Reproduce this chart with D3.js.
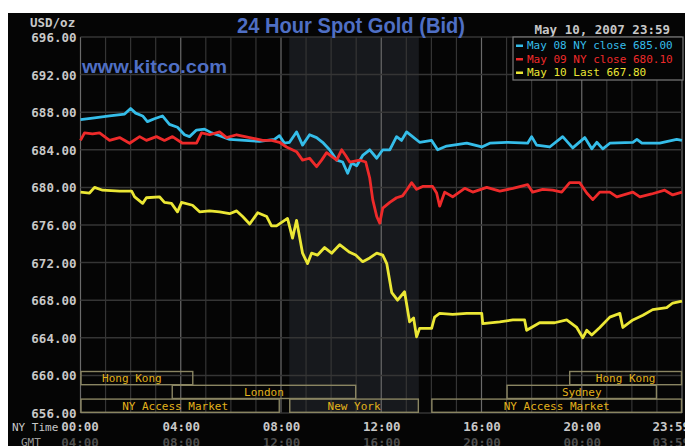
<!DOCTYPE html>
<html>
<head>
<meta charset="utf-8">
<script src="https://cdn.jsdelivr.net/npm/d3@7"></script>
<style>
  html, body { margin: 0; padding: 0; background: #ffffff; }
  svg { display: block; }
</style>
</head>
<body>
<script>
// hours since 00:00 NY time and spot prices
const may08Hours = [0, 0.56, 1.16, 1.76, 2.0, 2.2, 2.48, 2.67, 2.95, 3.27, 3.55, 3.87, 4.15, 4.35, 4.63, 4.95, 5.23, 5.55, 5.95, 6.55, 7.15, 7.74, 7.94, 8.14, 8.34, 8.62, 8.86, 9.14, 9.42, 9.66, 9.94, 10.22, 10.46, 10.66, 10.82, 11.02, 11.26, 11.54, 11.82, 12.06, 12.34, 12.61, 12.81, 13.01, 13.25, 13.53, 14.01, 14.25, 14.61, 15.41, 16.01, 16.33, 17.01, 17.84, 18.0, 18.2, 18.72, 19.24, 19.64, 20.12, 20.4, 20.6, 20.84, 21.12, 22.04, 22.2, 22.4, 23.11, 23.79, 24];
const may08Prices = [687.2, 687.4, 687.6, 687.8, 688.4, 687.9, 687.6, 687.0, 687.3, 687.6, 686.7, 686.4, 685.6, 685.4, 686.1, 686.2, 685.8, 685.5, 685.1, 685.0, 684.9, 685.1, 685.5, 684.7, 684.8, 685.9, 684.5, 685.6, 685.3, 684.8, 684.0, 682.9, 682.7, 681.5, 682.6, 682.3, 683.4, 684.0, 683.1, 684.0, 684.0, 685.4, 685.0, 685.9, 685.4, 684.8, 685.0, 684.0, 684.4, 684.7, 684.3, 684.7, 684.8, 684.7, 685.4, 684.5, 684.3, 685.4, 684.2, 685.3, 684.1, 684.8, 684.1, 684.7, 684.8, 685.1, 684.7, 684.7, 685.1, 685.0];

const may09Hours = [0, 0.16, 0.48, 0.76, 1.16, 1.56, 1.96, 2.36, 2.63, 3.03, 3.35, 3.67, 4.07, 4.63, 4.83, 5.15, 5.55, 5.83, 6.23, 6.75, 7.27, 7.62, 7.94, 8.22, 8.62, 8.86, 9.14, 9.42, 9.62, 9.82, 10.02, 10.22, 10.42, 10.58, 10.74, 11.14, 11.38, 11.54, 11.66, 11.82, 11.94, 12.06, 12.34, 12.61, 12.85, 13.01, 13.21, 13.41, 13.65, 14.05, 14.21, 14.33, 14.53, 14.85, 15.33, 15.65, 16.21, 16.73, 17.25, 17.84, 18.04, 18.44, 18.84, 19.2, 19.52, 19.92, 20.2, 20.44, 20.72, 21.12, 21.4, 22.04, 22.32, 22.79, 23.31, 23.63, 24];
const may09Prices = [685.0, 685.8, 685.7, 685.8, 685.0, 685.3, 684.7, 685.4, 685.0, 685.4, 685.0, 685.4, 684.7, 684.7, 685.8, 685.6, 685.9, 685.3, 685.6, 685.3, 685.0, 685.0, 684.8, 684.3, 683.8, 682.9, 683.1, 682.2, 682.9, 683.7, 683.3, 682.9, 684.0, 683.4, 682.7, 682.9, 682.7, 681.0, 678.7, 676.9, 676.2, 677.8, 678.4, 678.9, 679.1, 679.7, 680.5, 679.8, 680.1, 680.1, 679.4, 678.0, 679.5, 679.0, 679.9, 679.5, 680.0, 679.6, 679.9, 680.3, 679.5, 679.8, 679.7, 679.5, 680.5, 680.5, 679.4, 678.7, 679.5, 679.5, 679.0, 679.5, 679.0, 679.3, 679.7, 679.2, 679.5];

const may10Hours = [0, 0.36, 0.56, 0.88, 1.56, 2.04, 2.16, 2.48, 2.63, 3.15, 3.35, 3.63, 3.87, 4.03, 4.47, 4.75, 5.15, 5.55, 5.95, 6.23, 6.47, 6.75, 7.07, 7.43, 7.62, 7.82, 8.26, 8.46, 8.62, 8.86, 9.06, 9.22, 9.46, 9.74, 10.02, 10.34, 10.74, 10.98, 11.26, 11.54, 11.82, 12.06, 12.22, 12.42, 12.65, 12.93, 13.13, 13.29, 13.41, 13.53, 14.01, 14.13, 14.33, 14.85, 15.41, 16.01, 16.05, 16.73, 17.25, 17.72, 17.8, 18.32, 18.92, 19.4, 19.8, 20.04, 20.2, 20.4, 20.72, 21.12, 21.52, 21.64, 22.04, 22.44, 22.83, 23.39, 23.63, 24];
const may10Prices = [679.5, 679.4, 680.0, 679.7, 679.6, 679.6, 679.0, 678.3, 678.9, 679.0, 678.4, 678.3, 677.4, 678.4, 678.1, 677.4, 677.5, 677.4, 677.2, 677.5, 676.9, 676.1, 677.3, 676.9, 675.9, 675.9, 676.7, 674.6, 676.5, 673.0, 671.9, 673.0, 672.8, 673.6, 673.0, 673.9, 673.1, 672.8, 672.1, 672.5, 673.0, 672.8, 671.9, 668.8, 668.0, 668.9, 665.7, 666.1, 664.1, 665.0, 665.0, 666.2, 666.6, 666.5, 666.6, 666.6, 665.5, 665.7, 665.9, 665.9, 664.8, 665.6, 665.6, 665.9, 665.1, 664.0, 664.8, 664.3, 665.1, 666.2, 666.6, 665.1, 665.9, 666.4, 667.0, 667.2, 667.7, 667.9];

const seriesNames = ['May 08 NY close', 'May 09 NY close', 'May 10 Last'];
const seriesCloses = [685.00, 680.10, 667.80];

const yTicks = [656, 660, 664, 668, 672, 676, 680, 684, 688, 692, 696];
const xTicks = [0, 4, 8, 12, 16, 20, 24];
const nyLabels = ['00:00', '04:00', '08:00', '12:00', '16:00', '20:00', '23:59'];
const gmtLabels = ['04:00', '08:00', '12:00', '16:00', '20:00', '00:00', '03:59'];

// trading sessions: name, row, start hour, end hour
const sessionNames = ['Hong Kong', 'London', 'NY Access Market', 'New York', 'NY Access Market', 'Sydney', 'Hong Kong'];
const sessionRows = [0, 1, 2, 2, 2, 1, 0];
const sessionStarts = [0, 3.64, 0, 8.33, 14, 17, 19.5];
const sessionEnds = [4.5, 11, 7.95, 13.5, 24, 23, 24];
const comexOpen = [8.33, 13.5];

const W = 685, H = 446;
const palette = {
  bg: '#050505',
  shade: '#17191d',
  grid: '#353535',
  gridMajor: '#6a6a6a',
  text: '#c8c8c8',
  dim: '#4e4e4e',
  blue: '#4f6fc4',
  session: '#e2b21c',
  sessionBox: '#8a8562',
  series: ['#35bde9', '#ee2a2a', '#ebe735']
};
const mono = '"DejaVu Sans Mono", "Liberation Mono", monospace';

const svg = d3.select('body').append('svg')
  .attr('width', W)
  .attr('height', H);

svg.append('rect')
  .attr('x', 8).attr('y', 13)
  .attr('width', W - 8).attr('height', H - 13)
  .attr('fill', palette.bg);

const x = d3.scaleLinear().domain([0, 24]).range([80.5, 682]);
const y = d3.scaleLinear().domain([656, 696]).range([413, 37]);

// comex hours shading
svg.append('rect')
  .attr('x', x(comexOpen[0]))
  .attr('y', y(696))
  .attr('width', x(comexOpen[1]) - x(comexOpen[0]))
  .attr('height', y(656) - y(696))
  .attr('fill', palette.shade);

// grid
svg.append('g')
  .selectAll('line')
  .data(d3.range(0, 25))
  .enter()
  .append('line')
  .attr('x1', d => x(d)).attr('x2', d => x(d))
  .attr('y1', y(696)).attr('y2', y(656))
  .attr('stroke', d => d % 4 === 0 ? palette.gridMajor : palette.grid)
  .attr('stroke-width', 1.2);

svg.append('g')
  .selectAll('line')
  .data(yTicks)
  .enter()
  .append('line')
  .attr('x1', x(0)).attr('x2', x(24))
  .attr('y1', d => y(d)).attr('y2', d => y(d))
  .attr('stroke', palette.grid)
  .attr('stroke-width', 1.5);

// session boxes
const rowTop = 371.5, rowH = 13.8;
const sessions = sessionNames.map((name, i) => ({
  name, row: sessionRows[i], start: sessionStarts[i], end: sessionEnds[i]
}));

const sess = svg.append('g');
sess.selectAll('rect')
  .data(sessions)
  .enter()
  .append('rect')
  .attr('x', d => x(d.start) + 0.5)
  .attr('y', d => rowTop + d.row * rowH)
  .attr('width', d => x(d.end) - x(d.start) - 1)
  .attr('height', rowH - 0.6)
  .attr('fill', 'none')
  .attr('stroke', palette.sessionBox)
  .attr('stroke-width', 1.4);

sess.selectAll('text')
  .data(sessions)
  .enter()
  .append('text')
  .attr('x', d => (x(d.start) + x(d.end)) / 2 - (d.start === 0 ? 5 : 0))
  .attr('y', d => rowTop + d.row * rowH + 10.5)
  .attr('text-anchor', 'middle')
  .attr('font-family', mono)
  .attr('font-size', 11)
  .attr('fill', palette.session)
  .text(d => d.name);

// price lines
const series = [
  { hours: may08Hours, prices: may08Prices },
  { hours: may09Hours, prices: may09Prices },
  { hours: may10Hours, prices: may10Prices }
];

const line = d3.line()
  .x(d => x(d[0]))
  .y(d => y(d[1]));

svg.append('g')
  .selectAll('path')
  .data(series)
  .enter()
  .append('path')
  .attr('d', s => line(s.hours.map((h, i) => [h, s.prices[i]])))
  .attr('fill', 'none')
  .attr('stroke', (s, i) => palette.series[i])
  .attr('stroke-width', 2.8)
  .attr('stroke-linejoin', 'round');

// axes
const yAxis = svg.append('g')
  .attr('transform', `translate(${x(0)},0)`)
  .call(d3.axisLeft(y).tickValues(yTicks).tickFormat(d3.format('.2f')).tickSize(0).tickPadding(4));
yAxis.select('.domain').remove();
yAxis.selectAll('text')
  .attr('font-family', mono)
  .attr('font-size', 12.5)
  .attr('font-weight', 700)
  .attr('fill', palette.text)
  .attr('dy', '0.36em');

function timeAxis(labels, ty, color) {
  const g = svg.append('g')
    .attr('transform', `translate(0,${ty})`)
    .call(d3.axisBottom(x).tickValues(xTicks).tickFormat((d, i) => labels[i]).tickSize(0).tickPadding(0));
  g.select('.domain').remove();
  g.selectAll('text')
    .attr('font-family', mono)
    .attr('font-size', 12.5)
    .attr('font-weight', 700)
    .attr('fill', color)
    .attr('dy', 0)
    .attr('dx', (d, i) => i === 0 ? -1 : 0)
    .filter(d => d === 24)
    .attr('text-anchor', 'start')
    .attr('dx', -30);
}
timeAxis(nyLabels, 431, palette.text);
timeAxis(gmtLabels, 447, palette.dim);

svg.append('text')
  .attr('x', 12).attr('y', 431)
  .attr('font-family', mono).attr('font-size', 11)
  .attr('fill', palette.text)
  .text('NY Time');

svg.append('text')
  .attr('x', 21).attr('y', 446)
  .attr('font-family', mono).attr('font-size', 11)
  .attr('fill', '#9a9a9a')
  .text('GMT');

svg.append('text')
  .attr('x', 30).attr('y', 26.5)
  .attr('font-family', mono).attr('font-size', 12.5).attr('font-weight', 700)
  .attr('fill', palette.text)
  .text('USD/oz');

// titles
svg.append('text')
  .attr('x', 237).attr('y', 33)
  .attr('font-family', '"Liberation Sans", Arial, sans-serif')
  .attr('font-size', 22).attr('font-weight', 700)
  .attr('textLength', 228).attr('lengthAdjust', 'spacingAndGlyphs')
  .attr('fill', palette.blue)
  .text('24 Hour Spot Gold (Bid)');

svg.append('text')
  .attr('x', 82).attr('y', 73)
  .attr('font-family', '"Liberation Sans", Arial, sans-serif')
  .attr('font-size', 18).attr('font-weight', 700)
  .attr('textLength', 145).attr('lengthAdjust', 'spacingAndGlyphs')
  .attr('fill', palette.blue)
  .text('www.kitco.com');

svg.append('text')
  .attr('x', 670).attr('y', 34)
  .attr('text-anchor', 'end')
  .attr('font-family', mono).attr('font-size', 12.5).attr('font-weight', 700)
  .attr('fill', palette.text)
  .text('May 10, 2007 23:59');

// legend
const legend = svg.append('g').attr('transform', 'translate(513,37)');
legend.append('rect')
  .attr('width', 170).attr('height', 43)
  .attr('fill', palette.bg)
  .attr('stroke', '#7a7a7a')
  .attr('stroke-width', 1.2);

legend.selectAll('rect.key')
  .data(seriesNames)
  .enter()
  .append('rect')
  .attr('class', 'key')
  .attr('x', 3).attr('y', (d, i) => 7.5 + i * 13.5)
  .attr('width', 7).attr('height', 2.5)
  .attr('fill', (d, i) => palette.series[i]);

legend.selectAll('text')
  .data(seriesNames)
  .enter()
  .append('text')
  .attr('x', 14).attr('y', (d, i) => 12 + i * 13.5)
  .attr('font-family', mono).attr('font-size', 11)
  .attr('fill', (d, i) => palette.series[i])
  .text((d, i) => `${d} ${seriesCloses[i].toFixed(2)}`);
</script>
</body>
</html>
